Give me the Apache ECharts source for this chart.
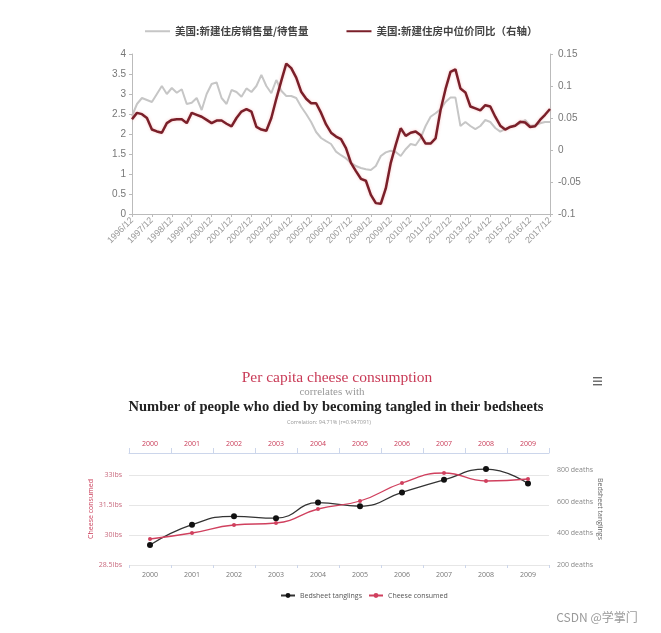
<!DOCTYPE html>
<html>
<head>
<meta charset="utf-8">
<script src="https://cdn.jsdelivr.net/npm/echarts@6/dist/echarts.min.js"></script>
<style>
html,body{margin:0;padding:0;background:#fff;}
#main{width:661px;height:633px;}
</style>
</head>
<body>
<div id="main"></div>
<script>
// ---------- Top chart: US new home sales / inventory & median price YoY ----------
const quarters = [
 '1996/12',
 '1997/03','1997/06','1997/09','1997/12','1998/03','1998/06','1998/09','1998/12',
 '1999/03','1999/06','1999/09','1999/12','2000/03','2000/06','2000/09','2000/12',
 '2001/03','2001/06','2001/09','2001/12','2002/03','2002/06','2002/09','2002/12',
 '2003/03','2003/06','2003/09','2003/12','2004/03','2004/06','2004/09','2004/12',
 '2005/03','2005/06','2005/09','2005/12','2006/03','2006/06','2006/09','2006/12',
 '2007/03','2007/06','2007/09','2007/12','2008/03','2008/06','2008/09','2008/12',
 '2009/03','2009/06','2009/09','2009/12','2010/03','2010/06','2010/09','2010/12',
 '2011/03','2011/06','2011/09','2011/12','2012/03','2012/06','2012/09','2012/12',
 '2013/03','2013/06','2013/09','2013/12','2014/03','2014/06','2014/09','2014/12',
 '2015/03','2015/06','2015/09','2015/12','2016/03','2016/06','2016/09','2016/12',
 '2017/03','2017/06','2017/09','2017/12'
];
const salesToInventory = [
 2.45,
 2.75,2.90,2.85,2.80, 3.00,3.20,3.00,3.15, 3.03,3.12,2.75,2.78, 2.90,2.60,3.00,3.25,
 3.29,2.90,2.75,3.10, 3.05,2.93,3.14,3.05, 3.20,3.48,3.20,3.02, 3.35,3.08,2.95,2.95,
 2.90,2.68,2.50,2.30, 2.05,1.90,1.82,1.75, 1.56,1.47,1.39,1.28, 1.20,1.15,1.12,1.10,
 1.20,1.45,1.54,1.58, 1.55,1.45,1.62,1.75, 1.72,1.90,2.20,2.43, 2.52,2.62,2.80,2.91,
 2.91,2.20,2.30,2.20, 2.12,2.20,2.35,2.30, 2.15,2.06,2.12,2.18, 2.22,2.27,2.35,2.20,
 2.22,2.27,2.30,2.30
];
const medianPriceYoY = [
 0.048,
 0.058,0.056,0.050,0.032, 0.029,0.027,0.042,0.047, 0.048,0.048,0.042,0.058, 0.055,0.052,0.047,0.042,
 0.046,0.046,0.041,0.037, 0.050,0.060,0.064,0.060, 0.036,0.032,0.030,0.050, 0.080,0.108,0.135,0.128,
 0.113,0.091,0.080,0.073, 0.073,0.058,0.040,0.027, 0.021,0.017,0.003,-0.020, -0.033,-0.045,-0.048,-0.070,
 -0.083,-0.084,-0.060,-0.020, 0.008,0.034,0.022,0.027, 0.029,0.023,0.010,0.010, 0.018,0.062,0.095,0.122,
 0.126,0.096,0.090,0.068, 0.065,0.062,0.070,0.068, 0.052,0.038,0.032,0.036, 0.038,0.044,0.043,0.036,
 0.037,0.047,0.055,0.064
];
const topSeriesNames = ['美国:新建住房销售量/待售量', '美国:新建住房中位价同比（右轴）'];

// ---------- Bottom chart: spurious correlation ----------
const years = ['2000','2001','2002','2003','2004','2005','2006','2007','2008','2009'];
const bedsheetDeaths = [327, 456, 509, 497, 596, 573, 661, 741, 809, 717];
const cheeseLbs = [29.8, 30.1, 30.5, 30.6, 31.3, 31.7, 32.6, 33.1, 32.7, 32.8];
const bottomSeriesNames = ['Bedsheet tanglings', 'Cheese consumed'];

const pink = '#c93b57';
const serif = '"Liberation Serif", "DejaVu Serif", serif';
const sans = '"Open Sans", "Noto Sans", sans-serif';

const chart = echarts.init(document.getElementById('main'));
chart.setOption({
  animation: false,
  backgroundColor: '#fff',
  legend: [
    {
      data: topSeriesNames,
      left: 140, top: 21,
      itemWidth: 25, itemHeight: 2, itemGap: 38,
      icon: 'rect',
      textStyle: {fontFamily: '"Noto Sans CJK SC", sans-serif', fontSize: 10.5, fontWeight: 'bold', color: '#444'}
    },
    {
      data: bottomSeriesNames,
      left: 275, top: 587,
      itemWidth: 14, itemHeight: 6, itemGap: 6,
      textStyle: {fontFamily: sans, fontSize: 7, color: '#555'}
    }
  ],
  grid: [
    {left: 132, top: 54, width: 418, height: 160},
    {left: 129, top: 453, width: 420, height: 112}
  ],
  xAxis: [
    {
      gridIndex: 0, type: 'category', data: quarters, boundaryGap: false,
      axisLine: {lineStyle: {color: '#bbb'}},
      axisTick: {interval: 3, length: 3, lineStyle: {color: '#bbb'}},
      axisLabel: {interval: 3, rotate: 45, fontSize: 9, color: '#999', margin: 5, fontFamily: 'Arial, "Liberation Sans", sans-serif'}
    },
    {
      gridIndex: 1, type: 'category', data: years, position: 'bottom',
      axisLine: {show: false},
      axisTick: {show: true, length: 3, lineStyle: {color: '#ccd6eb'}},
      axisLabel: {fontSize: 7, color: '#777', margin: 6, fontFamily: sans}
    },
    {
      gridIndex: 1, type: 'category', data: years, position: 'top',
      axisLine: {show: true, lineStyle: {color: '#ccd6eb'}},
      axisTick: {show: true, length: 5, lineStyle: {color: '#ccd6eb'}},
      axisLabel: {fontSize: 7, color: pink, margin: 6, fontFamily: sans}
    }
  ],
  yAxis: [
    {
      gridIndex: 0, type: 'value', min: 0, max: 4, interval: 0.5, position: 'left',
      splitLine: {show: false},
      axisLine: {show: true, lineStyle: {color: '#bbb'}},
      axisTick: {show: true, length: 3, lineStyle: {color: '#bbb'}},
      axisLabel: {fontSize: 10, color: '#777', margin: 6, fontFamily: 'Arial, "Liberation Sans", sans-serif'}
    },
    {
      gridIndex: 0, type: 'value', min: -0.1, max: 0.15, interval: 0.05, position: 'right',
      splitLine: {show: false},
      axisLine: {show: true, lineStyle: {color: '#bbb'}},
      axisTick: {show: true, length: 3, lineStyle: {color: '#bbb'}},
      axisLabel: {fontSize: 10, color: '#777', margin: 8, fontFamily: 'Arial, "Liberation Sans", sans-serif'}
    },
    {
      gridIndex: 1, type: 'value', min: 28.5, max: 34.1, interval: 1.5, position: 'left',
      name: 'Cheese consumed', nameLocation: 'middle', nameGap: 35, nameMoveOverlap: false,
      nameTextStyle: {color: pink, fontSize: 7, fontFamily: sans},
      splitLine: {show: true, lineStyle: {color: '#e6e6e6'}},
      axisLine: {show: false}, axisTick: {show: false},
      axisLabel: {showMaxLabel: false, fontSize: 7, color: '#c96a7e', margin: 7, fontFamily: sans,
        formatter: v => v + 'lbs'}
    },
    {
      gridIndex: 1, type: 'value', min: 200, max: 911, interval: 200, position: 'right',
      name: 'Bedsheet tanglings', nameLocation: 'middle', nameGap: 47, nameRotate: -90, nameMoveOverlap: false,
      nameTextStyle: {color: '#666', fontSize: 7, fontFamily: sans},
      splitLine: {show: false},
      axisLine: {show: false}, axisTick: {show: false},
      axisLabel: {showMaxLabel: false, fontSize: 7, color: '#888', margin: 8, fontFamily: sans,
        formatter: v => v + ' deaths'}
    }
  ],
  series: [
    {
      name: topSeriesNames[0], type: 'line', xAxisIndex: 0, yAxisIndex: 0,
      data: salesToInventory, showSymbol: false, symbol: 'none',
      lineStyle: {color: '#c6c6c6', width: 2}, itemStyle: {color: '#c6c6c6'}
    },
    {
      name: topSeriesNames[1], type: 'line', xAxisIndex: 0, yAxisIndex: 1,
      data: medianPriceYoY, showSymbol: false, symbol: 'none',
      lineStyle: {color: '#7a1f29', width: 2.5, shadowColor: 'rgba(240,130,130,0.45)', shadowBlur: 3},
      itemStyle: {color: '#7a1f29'}
    },
    {
      name: bottomSeriesNames[0], type: 'line', xAxisIndex: 1, yAxisIndex: 3,
      data: bedsheetDeaths, smooth: true, symbol: 'circle', symbolSize: 6,
      lineStyle: {color: '#333', width: 1.3}, itemStyle: {color: '#111'}
    },
    {
      name: bottomSeriesNames[1], type: 'line', xAxisIndex: 1, yAxisIndex: 2,
      data: cheeseLbs, smooth: true, symbol: 'circle', symbolSize: 4,
      lineStyle: {color: '#d0405e', width: 1.3}, itemStyle: {color: '#d0405e'}
    }
  ],
  graphic: [
    {type: 'text', x: 337, y: 378, style: {text: 'Per capita cheese consumption', font: '15.5px ' + serif, fill: pink,
      align: 'center', verticalAlign: 'middle', textAlign: 'center', textVerticalAlign: 'middle'}},
    {type: 'text', x: 332, y: 392, style: {text: 'correlates with', font: '11px ' + serif, fill: '#999',
      align: 'center', verticalAlign: 'middle', textAlign: 'center', textVerticalAlign: 'middle'}},
    {type: 'text', x: 336, y: 407, style: {text: 'Number of people who died by becoming tangled in their bedsheets', font: 'bold 14.5px ' + serif, fill: '#222',
      align: 'center', verticalAlign: 'middle', textAlign: 'center', textVerticalAlign: 'middle'}},
    {type: 'text', x: 329, y: 422, style: {text: 'Correlation: 94.71% (r=0.947091)', font: '5.5px ' + sans, fill: '#999',
      align: 'center', verticalAlign: 'middle', textAlign: 'center', textVerticalAlign: 'middle'}},
    {type: 'rect', shape: {x: 593, y: 377, width: 9, height: 1.4}, style: {fill: '#666'}},
    {type: 'rect', shape: {x: 593, y: 380.5, width: 9, height: 1.4}, style: {fill: '#666'}},
    {type: 'rect', shape: {x: 593, y: 384, width: 9, height: 1.4}, style: {fill: '#666'}},
    {type: 'text', x: 597, y: 617, style: {text: 'CSDN @学掌门', font: '12px "Noto Sans CJK SC", "Liberation Sans", sans-serif', fill: '#9a9a9a',
      align: 'center', verticalAlign: 'middle', textAlign: 'center', textVerticalAlign: 'middle'}}
  ]
});
</script>
</body>
</html>
